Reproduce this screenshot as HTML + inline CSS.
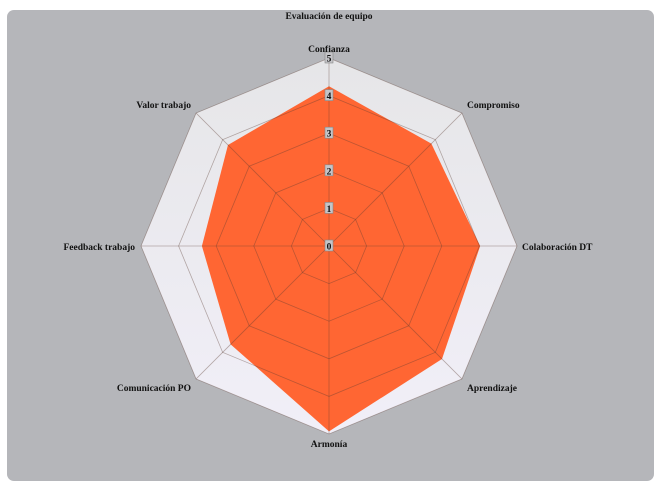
<!DOCTYPE html>
<html><head><meta charset="utf-8"><style>
html,body{margin:0;padding:0;background:#fff;width:661px;height:489px;overflow:hidden}
#p{position:absolute;left:7px;top:10px;width:647px;height:471px;background:#b5b6ba;border-radius:7px}
svg{position:absolute;left:0;top:0}
text{font-family:"Liberation Serif",serif;font-weight:bold;font-size:9.5px;fill:#111}
</style></head><body>
<div id="p"></div>
<svg id="s" width="661" height="489">
<defs><linearGradient id="g" x1="0" y1="0" x2="0" y2="1"><stop offset="0" stop-color="#e6e6e8"/><stop offset="1" stop-color="#f1eff8"/></linearGradient></defs>
<text x="329" y="19" text-anchor="middle">Evaluación de equipo</text>
</svg>
<script>
var s=document.getElementById('s'),ns='http://www.w3.org/2000/svg';
var cx=329,cy=246,R=188;
function pt(i,r){var a=-Math.PI/2+i*Math.PI/4;return [cx+r*Math.cos(a),cy+r*Math.sin(a)];}
function poly(r){var o=[];for(var i=0;i<8;i++)o.push(pt(i,r).join(','));return o.join(' ');}
function add(t,at,txt){var e=document.createElementNS(ns,t);for(var k in at)e.setAttribute(k,at[k]);if(txt)e.textContent=txt;s.appendChild(e);return e;}
add('polygon',{points:poly(R),fill:'url(#g)'});
var v=[4.25,3.85,4.02,4.25,4.93,3.7,3.38,3.8],dp=[];
for(var i=0;i<8;i++)dp.push(pt(i,v[i]*R/5).join(','));
add('polygon',{points:dp.join(' '),fill:'#ff6633'});
for(var k=1;k<=5;k++)add('polygon',{points:poly(R*k/5),fill:'none',stroke:'rgba(90,60,50,0.4)','stroke-width':0.8});
for(var i=0;i<8;i++){var p=pt(i,R);add('line',{x1:cx,y1:cy,x2:p[0],y2:p[1],stroke:'rgba(90,60,50,0.4)','stroke-width':0.8});}
for(var k=0;k<=5;k++){var y=cy-R*k/5;add('rect',{x:cx-4,y:y-6,width:8,height:11,fill:'#c4c4c8',stroke:'#888','stroke-width':0.6});add('text',{x:cx,y:y+3.5,'text-anchor':'middle'},String(k));}
var L=[['Confianza',329,52,'middle'],['Compromiso',467,108,'start'],['Colaboración DT',522,250,'start'],['Aprendizaje',467,391,'start'],['Armonía',329,447,'middle'],['Comunicación PO',191,391,'end'],['Feedback trabajo',135,250,'end'],['Valor trabajo',191,108,'end']];
L.forEach(function(l){add('text',{x:l[1],y:l[2],'text-anchor':l[3]},l[0]);});
</script>
</body></html>
